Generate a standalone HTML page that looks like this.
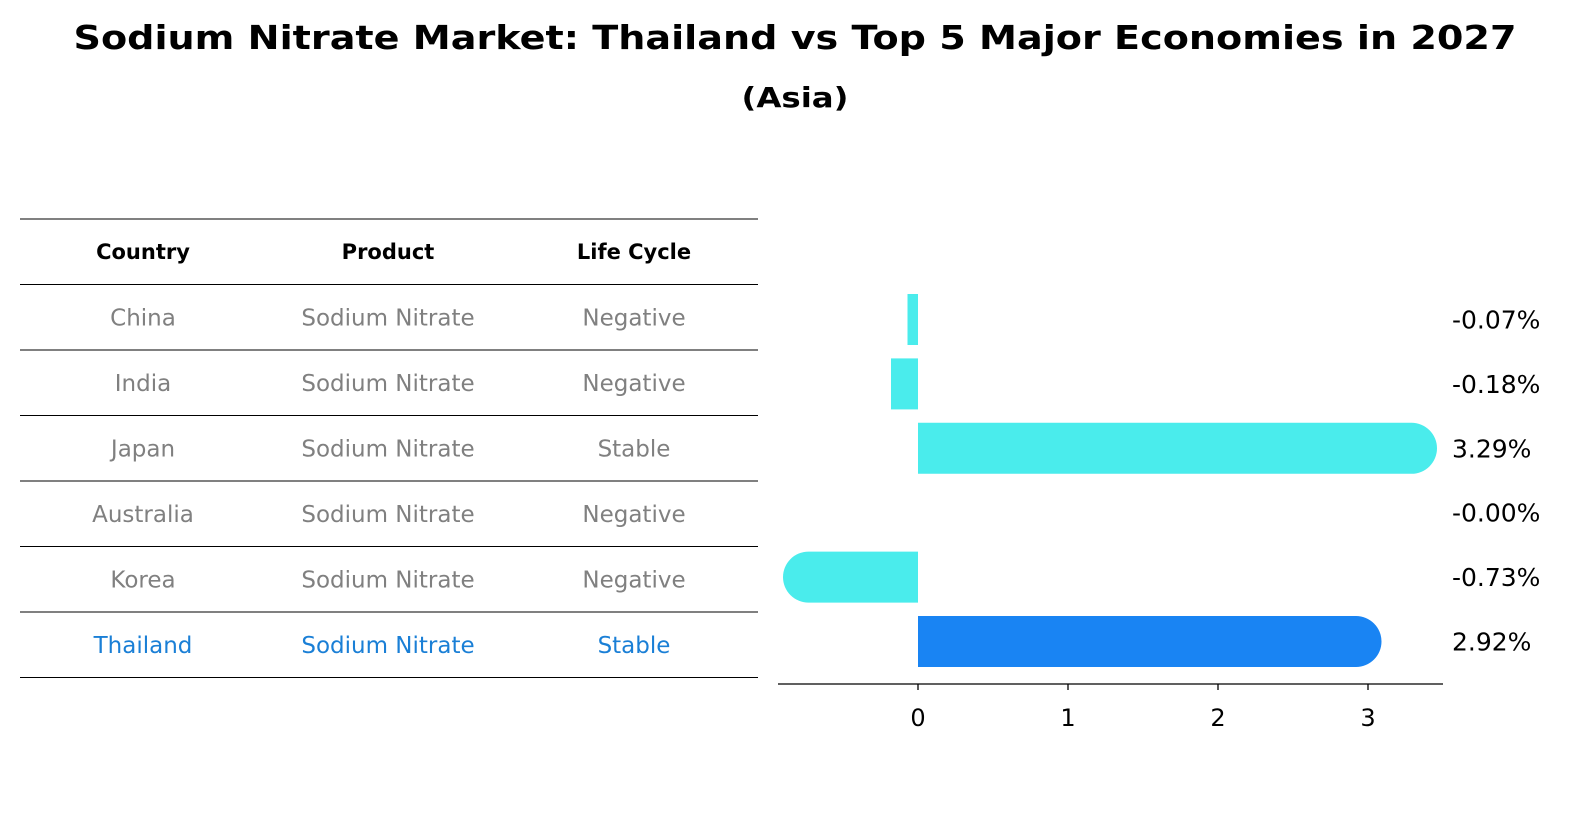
<!DOCTYPE html>
<html><head><meta charset="utf-8">
<style>
body{margin:0;background:#fff;font-family:"Liberation Sans","DejaVu Sans",sans-serif;}
#root{position:relative;width:1596px;height:823px;overflow:hidden;}
</style></head>
<body>
<div id="root">
<svg width="1596" height="823" xmlns="http://www.w3.org/2000/svg">
<text x="795" y="49" text-anchor="middle" font-size="33" font-weight="bold" textLength="1443" lengthAdjust="spacingAndGlyphs" font-family="DejaVu Sans, Liberation Sans, sans-serif">Sodium Nitrate Market: Thailand vs Top 5 Major Economies in 2027</text>
<text x="795" y="107" text-anchor="middle" font-size="28" font-weight="bold" textLength="107" lengthAdjust="spacingAndGlyphs" font-family="DejaVu Sans, Liberation Sans, sans-serif">(Asia)</text>
<g id="table"></g>
<g id="bars"></g>
</svg>
</div>
<script>
const countries=["China","India","Japan","Australia","Korea","Thailand"];
const products=["Sodium Nitrate","Sodium Nitrate","Sodium Nitrate","Sodium Nitrate","Sodium Nitrate","Sodium Nitrate"];
const lifeCycles=["Negative","Negative","Stable","Negative","Negative","Stable"];
const values=[-0.07,-0.18,3.29,-0.00,-0.73,2.92];
const xTicks=[0,1,2,3];
const NS="http://www.w3.org/2000/svg";
const FF="DejaVu Sans, Liberation Sans, sans-serif";
function mk(tag,attrs,parent){const e=document.createElementNS(NS,tag);for(const k in attrs)e.setAttribute(k,attrs[k]);parent.appendChild(e);return e;}
const tableG=document.getElementById('table');
const barsG=document.getElementById('bars');
const rowH=65.5, tableTop=219, colX=[143,388,634];
const headers=["Country","Product","Life Cycle"];
for(let i=0;i<=countries.length+1;i++){
  const l=mk('line',{x1:20,x2:758,y1:tableTop+i*rowH,y2:tableTop+i*rowH,stroke:'#000','stroke-width':1},tableG);
  
  
}
headers.forEach((h,j)=>{
  const t=mk('text',{x:colX[j],y:tableTop+rowH/2+7,'text-anchor':'middle','font-size':21,'font-weight':'bold','font-family':FF},tableG);
  t.textContent=h;
  
  
});
countries.forEach((c,i)=>{
  const y=tableTop+(i+1)*rowH+rowH/2+8;
  const col=c==="Thailand"?'#1a7fd6':'#808080';
  [c,products[i],lifeCycles[i]].forEach((v,j)=>{
    const t=mk('text',{x:colX[j],y:y,'text-anchor':'middle','font-size':23,fill:col,'font-family':FF},tableG);
    t.textContent=v;
    
    
  });
});
const x0=918, unit=150;
const xs=v=>x0+v*unit;
const barTop=294, step=64.4, barH=51;
values.forEach((v,i)=>{
  const y=barTop+i*step;
  const color=countries[i]==="Thailand"?'#1984f3':'#4aecec';
  const xa=Math.min(xs(0),xs(v)), w=Math.abs(xs(v)-xs(0));
  if(w>40){
    const r=barH/2;
    const xe=xs(v), dir=v>0?1:-1;
    const d=`M${xs(0)},${y} L${xe},${y} A${r},${r} 0 0 ${dir>0?1:0} ${xe},${y+barH} L${xs(0)},${y+barH} Z`;
    const p=mk('path',{d:d,fill:color},barsG);
    
    
  } else {
    const rc=mk('rect',{x:xa,y:y,width:w,height:barH,fill:color},barsG);
    
    
  }
  const t=mk('text',{x:1452,y:y+barH/2+9,'font-size':25,'font-family':FF},barsG);
  t.textContent=(v<=0?'-'+Math.abs(v).toFixed(2):v.toFixed(2))+'%';
  
  
});
const ax=mk('line',{x1:778,x2:1443,y1:684,y2:684,stroke:'#000','stroke-width':1.3},barsG);


xTicks.forEach(v=>{
  const tk=mk('line',{x1:xs(v),x2:xs(v),y1:684,y2:690,stroke:'#000','stroke-width':1.3},barsG);
  
  
  const t=mk('text',{x:xs(v),y:726,'text-anchor':'middle','font-size':24,'font-family':FF},barsG);
  t.textContent=v;
  
  
});
</script>
</body></html>
